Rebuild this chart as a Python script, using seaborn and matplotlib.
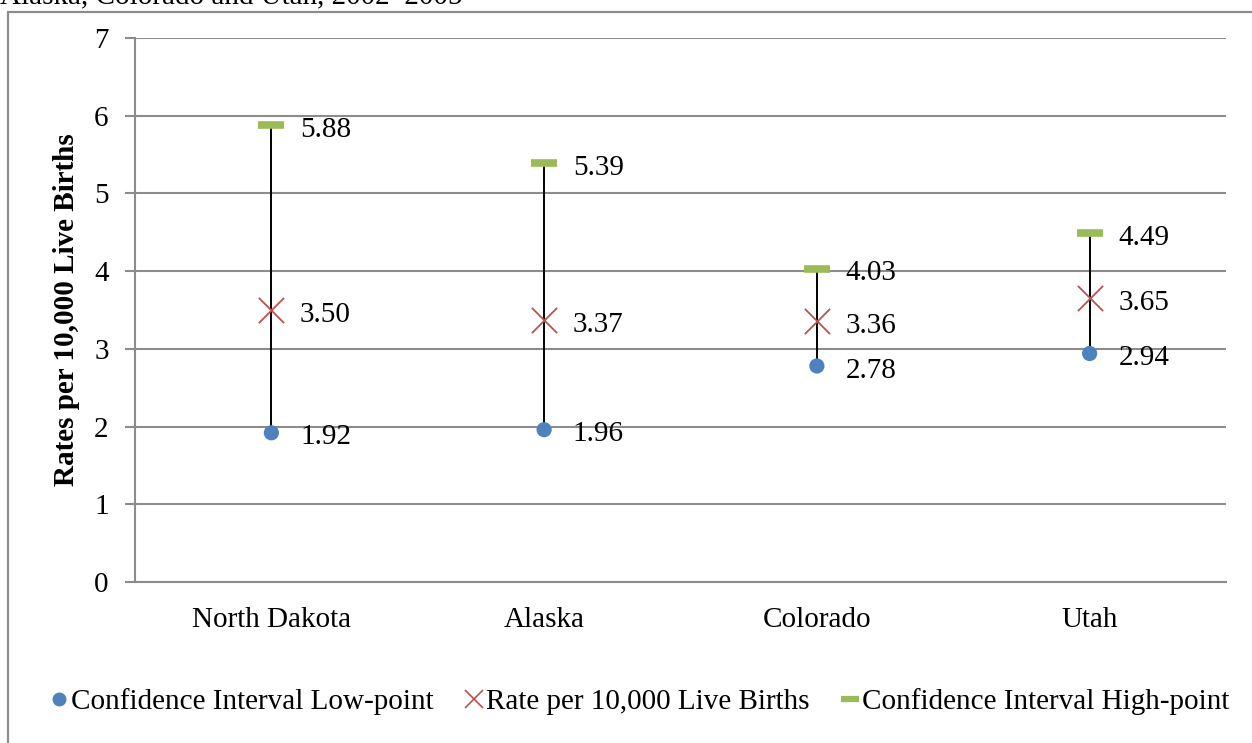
import matplotlib
matplotlib.use("Agg")
import matplotlib.pyplot as plt
from matplotlib.lines import Line2D
import seaborn as sns
import pandas as pd

states = ["North Dakota", "Alaska", "Colorado", "Utah"]
ci_low = [1.92, 1.96, 2.78, 2.94]
rate = [3.50, 3.37, 3.36, 3.65]
ci_high = [5.88, 5.39, 4.03, 4.49]
y_ticks = [0, 1, 2, 3, 4, 5, 6, 7]

series_names = ["Confidence Interval Low-point",
                "Rate per 10,000 Live Births",
                "Confidence Interval High-point"]

sns.set_theme(style="white")
plt.rcParams["font.family"] = ["Liberation Serif", "DejaVu Serif"]
plt.rcParams["text.color"] = "black"
plt.rcParams["axes.labelcolor"] = "black"
plt.rcParams["xtick.labelcolor"] = "black"
plt.rcParams["ytick.labelcolor"] = "black"

df = pd.DataFrame({"state": states, "low": ci_low, "rate": rate, "high": ci_high})

fig = plt.figure(figsize=(12.52, 7.43), dpi=100)
ax = fig.add_axes([135 / 1252, 1 - 582 / 743, (1226 - 135) / 1252, (582 - 38) / 743])

BLUE = "#4F81BD"
RED = "#C0504D"
GREEN = "#9BBB59"
GRID = "#8C8C8C"

# High-low connecting lines
ax.vlines(range(len(states)), df["low"], df["high"], color="black", lw=1.4, zorder=2)

sns.scatterplot(data=df, x="state", y="low", ax=ax, color=BLUE, s=120,
                marker="o", edgecolor="none", zorder=4, legend=False)
sns.scatterplot(data=df, x="state", y="rate", ax=ax, color=RED, s=330,
                marker="x", linewidth=1.3, zorder=4, legend=False)
sns.scatterplot(data=df, x="state", y="high", ax=ax, color=GREEN, s=360,
                marker="_", linewidth=5.5, zorder=4, legend=False)

fs = 21
for i in range(len(states)):
    for v in (ci_low[i], rate[i], ci_high[i]):
        ax.text(i + 0.105, v - 0.06, f"{v:.2f}", fontsize=fs, va="center", ha="left",
                color="black", zorder=5)

ax.set_xlim(-0.5, 3.5)
ax.set_ylim(0, 7)
ax.set_yticks(y_ticks)
ax.set_yticklabels([str(t) for t in y_ticks], fontsize=fs)
ax.yaxis.grid(True, color=GRID, lw=1.5)
ax.set_axisbelow(True)

ax.set_xticks(range(len(states)))
ax.set_xticklabels(states, fontsize=fs)
ax.set_xticks([-0.5, 0.5, 1.5, 2.5, 3.5], minor=True)
ax.tick_params(axis="x", which="major", length=0, pad=18)
ax.tick_params(axis="x", which="minor", length=8, width=1.5, color=GRID, direction="out")
ax.tick_params(axis="y", length=7, width=1.5, color=GRID, direction="out", pad=12,
               left=True)
ax.set_xlabel("")
ax.set_ylabel("Rates per 10,000 Live Births", fontsize=21, fontweight="bold", labelpad=10)

for side in ("top", "right"):
    ax.spines[side].set_visible(False)
for side in ("left", "bottom"):
    ax.spines[side].set_color(GRID)
    ax.spines[side].set_linewidth(1.5)

handles = [
    Line2D([], [], ls="none", marker="o", color=BLUE, markersize=9),
    Line2D([], [], ls="none", marker="x", color=RED, markersize=13, markeredgewidth=1.2),
    Line2D([], [], ls="none", marker="_", color=GREEN, markersize=13, markeredgewidth=4.5),
]
fig.legend(handles, series_names, loc="center", bbox_to_anchor=(0.511, 1 - 702 / 743),
           ncol=3, frameon=False, fontsize=fs, handlelength=0.6, handletextpad=0.1,
           columnspacing=1.1, borderaxespad=0, borderpad=0)

# Outer chart-area border
fig.add_artist(Line2D([8 / 1252, 8 / 1252], [0, 1 - 12 / 743], transform=fig.transFigure,
                      color="#8C8C8C", lw=1.6))
fig.add_artist(Line2D([8 / 1252, 1], [1 - 12 / 743, 1 - 12 / 743], transform=fig.transFigure,
                      color="#8C8C8C", lw=1.6))

fig.text(0.0, 1 - 3 / 743, "Alaska, Colorado and Utah, 2002\u20132005", fontsize=fs,
         va="baseline", ha="left")

fig.savefig("out.png", dpi=100)
